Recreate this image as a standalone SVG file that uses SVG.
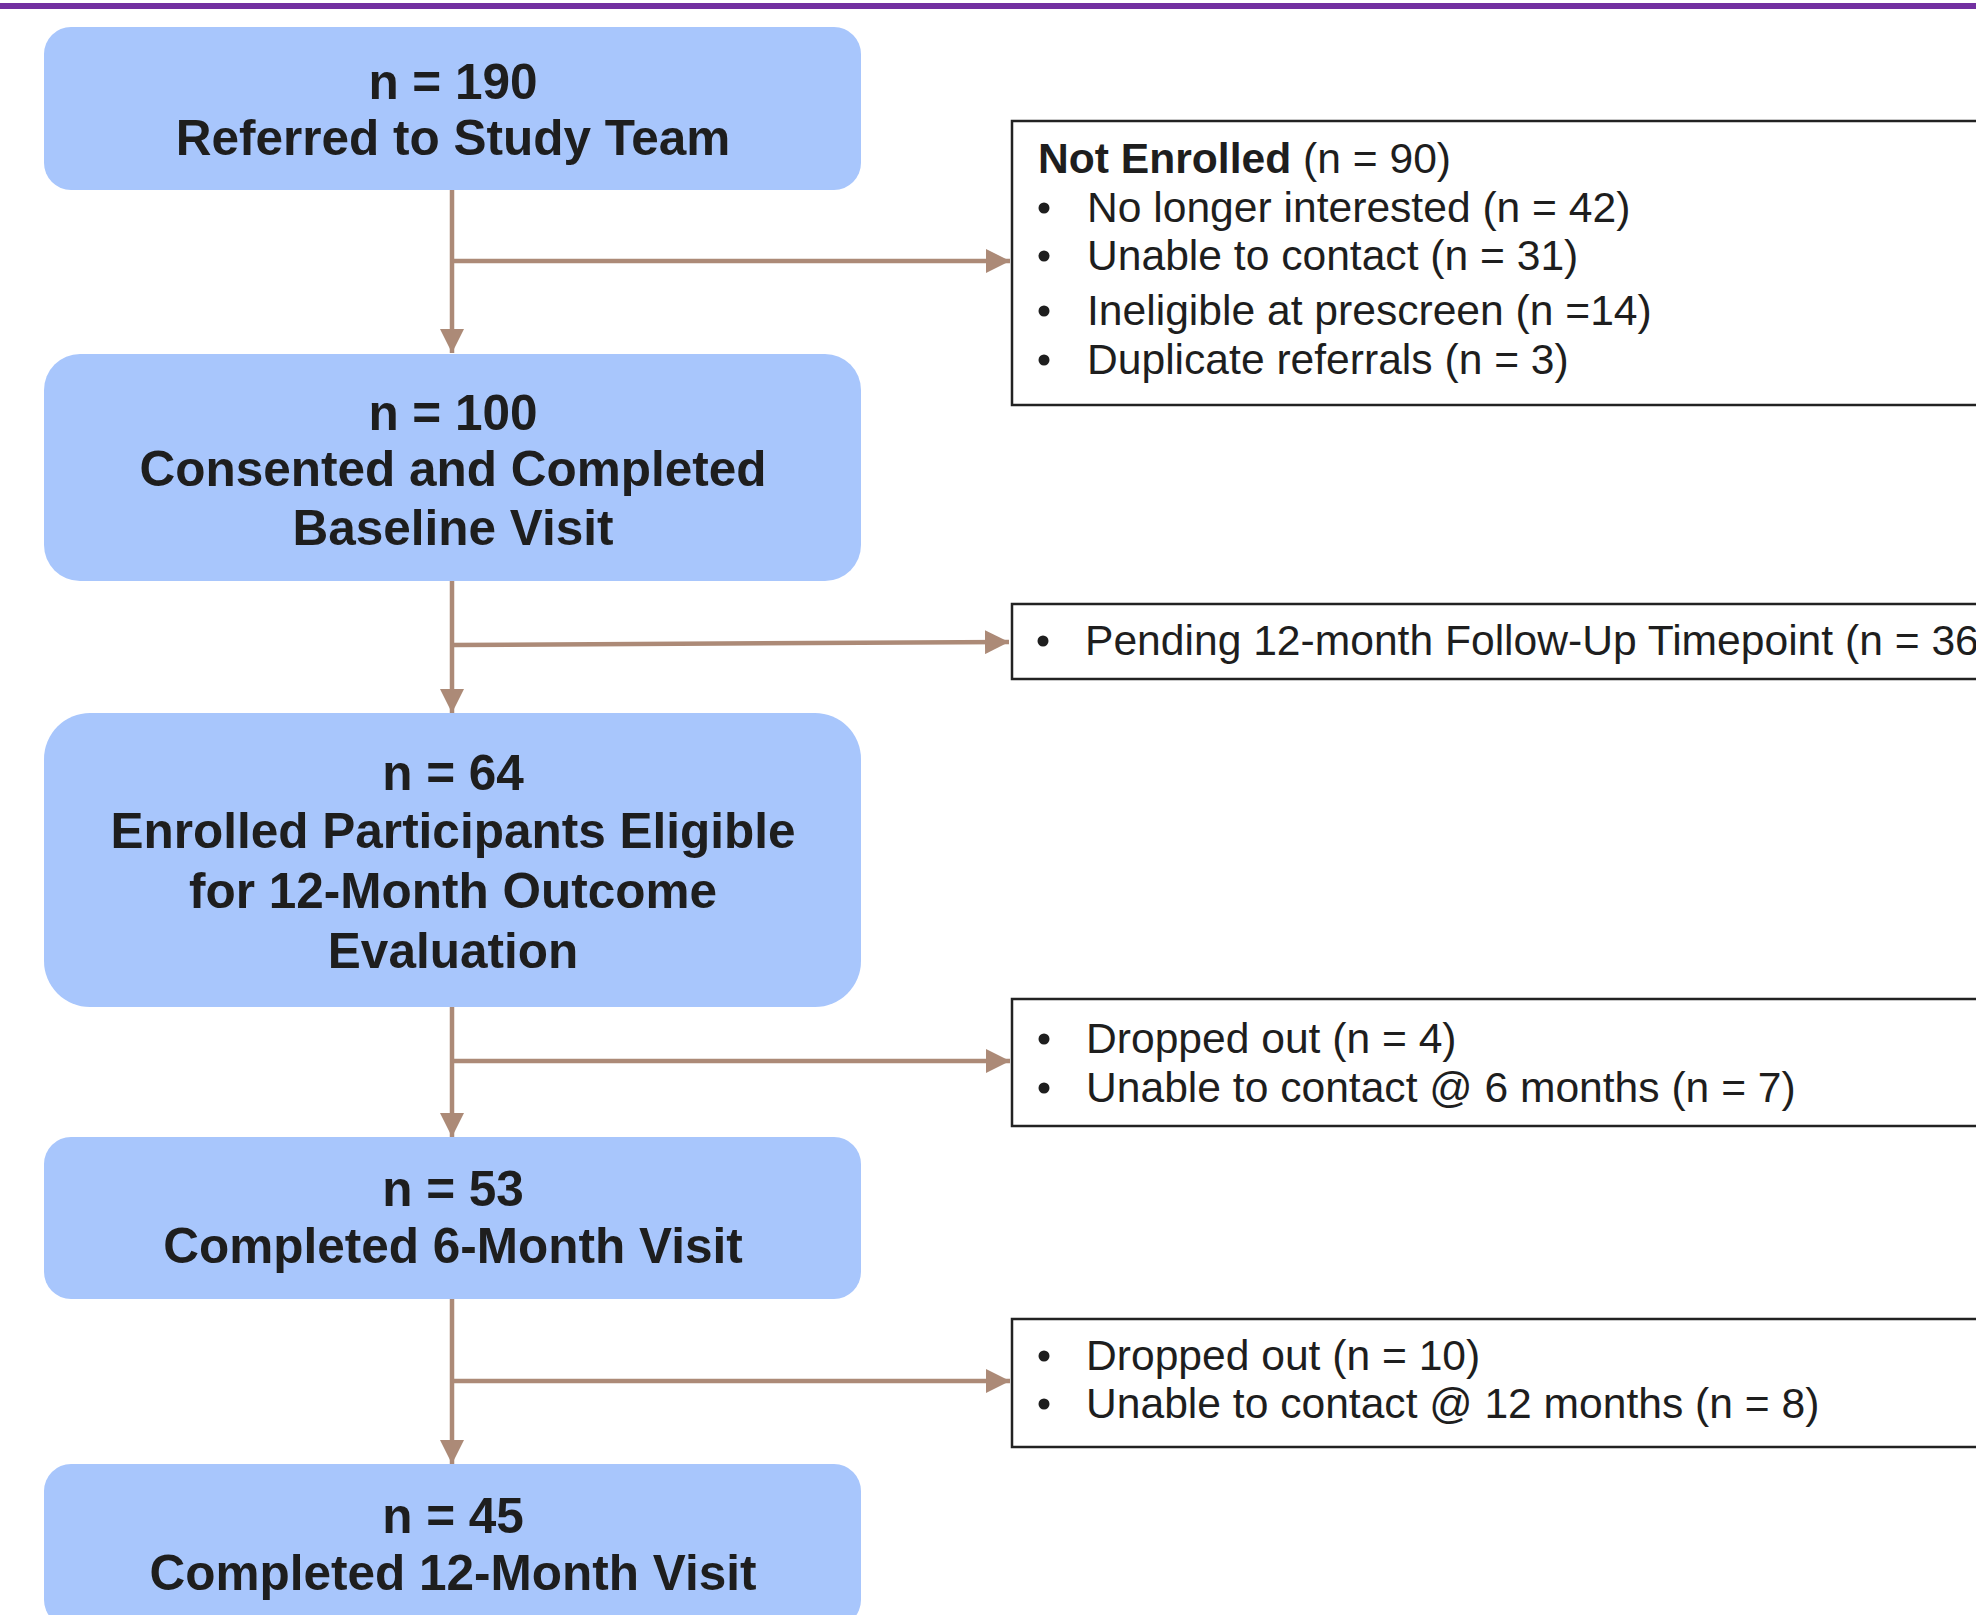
<svg xmlns="http://www.w3.org/2000/svg" width="1976" height="1615" viewBox="0 0 1976 1615">
<defs>
<style>
.node{fill:#A8C6FC;}
.side{fill:#FFFFFF;stroke:#222222;stroke-width:2.5;}
.t{font-family:"Liberation Sans",Arial,sans-serif;font-weight:bold;font-size:49.5px;fill:#1E1E1E;text-anchor:middle;}
.s{font-family:"Liberation Sans",Arial,sans-serif;font-size:42.6px;fill:#1E1E1E;}
.b{font-weight:bold;}
.conn{stroke:#AC8A77;stroke-width:4.5;fill:none;}
</style>
<marker id="ah" markerUnits="userSpaceOnUse" markerWidth="24" markerHeight="24" viewBox="0 0 22 22" refX="22" refY="11" orient="auto">
<path d="M0,0 L22,11 L0,22 Z" fill="#AC8A77"/>
</marker>
</defs>
<rect x="0" y="3" width="1976" height="6" fill="#7230A0"/>

<g id="connectors">
<line class="conn" x1="452" y1="190" x2="452" y2="353" marker-end="url(#ah)"/>
<line class="conn" x1="452" y1="261" x2="1010" y2="261" marker-end="url(#ah)"/>
<line class="conn" x1="452" y1="581" x2="452" y2="713" marker-end="url(#ah)"/>
<line class="conn" x1="452" y1="645" x2="1009" y2="642" marker-end="url(#ah)"/>
<line class="conn" x1="452" y1="1007" x2="452" y2="1137" marker-end="url(#ah)"/>
<line class="conn" x1="452" y1="1061" x2="1010" y2="1061" marker-end="url(#ah)"/>
<line class="conn" x1="452" y1="1299" x2="452" y2="1464" marker-end="url(#ah)"/>
<line class="conn" x1="452" y1="1381" x2="1010" y2="1381" marker-end="url(#ah)"/>
</g>

<g id="n1">
<rect class="node" x="44" y="27" width="817" height="163" rx="27" ry="27"/>
<text class="t" x="453" y="99">n = 190</text>
<text class="t" x="453" y="155">Referred to Study Team</text>
</g>
<g id="n2">
<rect class="node" x="44" y="354" width="817" height="227" rx="36" ry="36"/>
<text class="t" x="453" y="430">n = 100</text>
<text class="t" x="453" y="486">Consented and Completed</text>
<text class="t" x="453" y="545">Baseline Visit</text>
</g>
<g id="n3">
<rect class="node" x="44" y="713" width="817" height="294" rx="46" ry="46"/>
<text class="t" x="453" y="790">n = 64</text>
<text class="t" x="453" y="848">Enrolled Participants Eligible</text>
<text class="t" x="453" y="908">for 12-Month Outcome</text>
<text class="t" x="453" y="968">Evaluation</text>
</g>
<g id="n4">
<rect class="node" x="44" y="1137" width="817" height="162" rx="27" ry="27"/>
<text class="t" x="453" y="1206">n = 53</text>
<text class="t" x="453" y="1263">Completed 6-Month Visit</text>
</g>
<g id="n5">
<rect class="node" x="44" y="1464" width="817" height="163" rx="27" ry="27"/>
<text class="t" x="453" y="1533">n = 45</text>
<text class="t" x="453" y="1590">Completed 12-Month Visit</text>
</g>

<g id="s1">
<rect class="side" x="1012" y="121" width="1000" height="284"/>
<text class="s" x="1038" y="173"><tspan class="b">Not Enrolled</tspan> (n = 90)</text>
<circle cx="1044" cy="208" r="5.5" fill="#1E1E1E"/>
<text class="s" x="1087" y="222">No longer interested (n = 42)</text>
<circle cx="1044" cy="256" r="5.5" fill="#1E1E1E"/>
<text class="s" x="1087" y="270">Unable to contact (n = 31)</text>
<circle cx="1044" cy="311" r="5.5" fill="#1E1E1E"/>
<text class="s" x="1087" y="325">Ineligible at prescreen (n =14)</text>
<circle cx="1044" cy="360" r="5.5" fill="#1E1E1E"/>
<text class="s" x="1087" y="374">Duplicate referrals (n = 3)</text>
</g>
<g id="s2">
<rect class="side" x="1012" y="604" width="1000" height="75"/>
<circle cx="1043" cy="641" r="5.5" fill="#1E1E1E"/>
<text class="s" x="1085" y="655">Pending 12-month Follow-Up Timepoint (n = 36)</text>
</g>
<g id="s3">
<rect class="side" x="1012" y="999" width="1000" height="127"/>
<circle cx="1044" cy="1039" r="5.5" fill="#1E1E1E"/>
<text class="s" x="1086" y="1053">Dropped out (n = 4)</text>
<circle cx="1044" cy="1088" r="5.5" fill="#1E1E1E"/>
<text class="s" x="1086" y="1102">Unable to contact @ 6 months (n = 7)</text>
</g>
<g id="s4">
<rect class="side" x="1012" y="1319" width="1000" height="128"/>
<circle cx="1044" cy="1356" r="5.5" fill="#1E1E1E"/>
<text class="s" x="1086" y="1370">Dropped out (n = 10)</text>
<circle cx="1044" cy="1404" r="5.5" fill="#1E1E1E"/>
<text class="s" x="1086" y="1418">Unable to contact @ 12 months (n = 8)</text>
</g>
</svg>
